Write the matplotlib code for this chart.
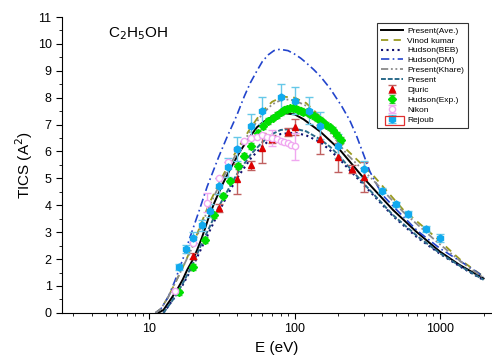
import numpy as np
import matplotlib.pyplot as plt
from matplotlib.patches import Rectangle
from matplotlib.ticker import MultipleLocator, FixedLocator, NullFormatter

plt.rcParams['font.family'] = ['Liberation Sans', 'DejaVu Sans']

# theory curves (energy in eV, cross section in A^2)
e_ave = [11.5, 12.5, 14, 15.5, 17, 18.2, 20, 21.3, 23, 25.6, 28, 32, 36, 42, 47, 55, 61, 70, 86,
         100, 115, 150, 205, 300, 475, 688, 1000, 1370, 2000]
tics_ave = [0, 0.11, 0.5, 0.86, 1.25, 1.6, 2.0, 2.34, 2.8, 3.55, 4.1, 4.8, 5.35, 6.0, 6.4, 6.9, 7.1, 7.3, 7.42,
            7.38, 7.2, 6.74, 6.06, 5.0, 3.83, 3.02, 2.28, 1.78, 1.28]

e_vinod = [11, 12, 13.5, 15, 17, 20, 23, 26, 30, 35, 40, 50, 60, 70, 83, 100, 120, 150, 229, 345, 560,
           950, 1400, 2000]
tics_vinod = [0, 0.15, 0.6, 1.1, 1.7, 2.55, 3.4, 4.1, 4.8, 5.5, 6.05, 6.9, 7.5, 7.85, 8.04, 8.0, 7.8, 7.3,
              6.06, 5.13, 3.83, 2.78, 1.95, 1.35]

e_beb = [12.5, 13.5, 15, 17, 20, 23, 26, 30, 35, 40, 50, 60, 70, 80, 100, 120, 150, 175, 205, 240, 300,
         475, 700, 1000, 1400, 2000]
tics_beb = [0, 0.25, 0.6, 1.05, 1.75, 2.45, 3.05, 3.75, 4.45, 5.0, 5.75, 6.2, 6.5, 6.65, 6.7, 6.6, 6.35,
            6.05, 5.7, 5.3, 4.75, 3.6, 2.8, 2.2, 1.7, 1.22]

e_dm = [11, 12, 13.5, 15, 17, 19, 22, 25, 30, 34, 40, 45, 49.5, 55, 60, 66, 72, 79, 90, 100, 110, 120,
        135, 150, 175, 210, 240, 266, 300, 330, 400, 500, 700, 1000, 1500, 2000]
tics_dm = [0, 0.15, 0.6, 1.2, 2.0, 2.8, 3.8, 4.7, 5.8, 6.5, 7.35, 8.05, 8.55, 9.0, 9.35, 9.6, 9.75, 9.8,
           9.75, 9.62, 9.47, 9.3, 9.05, 8.8, 8.35, 7.7, 7.15, 6.6, 5.85, 5.25, 4.4, 3.85, 3.05, 2.4, 1.8, 1.35]

e_khare = [11, 12, 13.5, 15, 17, 20, 23, 26, 30, 35, 40, 50, 60, 70, 83, 100, 120, 150, 229, 345, 560,
           950, 1400, 2000]
tics_khare = [0, 0.15, 0.6, 1.1, 1.7, 2.5, 3.3, 4.0, 4.7, 5.4, 5.95, 6.8, 7.4, 7.75, 7.95, 7.9, 7.7, 7.2,
              5.9, 4.95, 3.75, 2.65, 1.9, 1.3]

e_pres = [12.5, 13.5, 15, 17, 20, 23, 26, 30, 35, 40, 50, 60, 70, 80, 100, 120, 150, 175, 205, 240, 300,
          475, 700, 1000, 1400, 2000]
tics_pres = [0, 0.25, 0.6, 1.1, 1.85, 2.6, 3.2, 3.95, 4.6, 5.15, 5.9, 6.35, 6.65, 6.8, 6.85, 6.75, 6.45,
             6.18, 5.81, 5.38, 4.8, 3.64, 2.85, 2.22, 1.72, 1.23]

# experimental data
e_djuric = [20, 30, 40, 50, 60, 70, 90, 100, 150, 200, 250, 300]
tics_djuric = [2.12, 3.89, 4.97, 5.48, 6.12, 6.46, 6.74, 6.9, 6.45, 5.78, 5.34, 5.05]
err_djuric = [0.1, 0.15, 0.55, 0.15, 0.55, 0.15, 0.15, 0.3, 0.55, 0.55, 0.15, 0.55]

e_hudson = [16, 20, 24, 28, 32, 36, 41, 45, 50, 56, 61, 66, 71, 76, 80, 85, 89, 93, 97, 100, 105, 110, 115,
            121, 128, 135, 142, 150, 157, 165, 175, 185, 197, 210]
tics_hudson = [0.76, 1.70, 2.71, 3.64, 4.36, 4.92, 5.46, 5.85, 6.21, 6.70, 6.95, 7.14, 7.26, 7.36, 7.45,
               7.55, 7.58, 7.61, 7.61, 7.6, 7.56, 7.52, 7.48, 7.45, 7.38, 7.32, 7.25, 7.17, 7.08, 7.0,
               6.9, 6.8, 6.62, 6.43]
err_hudson = [0.1] * 34

e_nikon = [15, 20, 25, 30, 35, 40, 45, 50, 55, 60, 65, 70, 75, 80, 85, 90, 95, 100]
tics_nikon = [0.8, 2.6, 4.1, 5.0, 5.6, 6.1, 6.4, 6.5, 6.55, 6.6, 6.55, 6.5, 6.45, 6.4, 6.35, 6.3, 6.25, 6.2]
err_nikon = [0, 0, 0.35, 0, 0, 0, 0, 0, 0, 0, 0, 0.3, 0, 0, 0, 0, 0, 0.5]

e_rejoub = [16, 18, 20, 23, 26, 30, 35, 40, 50, 60, 80, 100, 125, 150, 200, 300, 400, 500, 600, 800, 1000]
tics_rejoub = [1.7, 2.37, 2.8, 3.26, 3.8, 4.72, 5.42, 6.08, 6.95, 7.52, 8.02, 7.89, 7.52, 6.95, 6.2,
               5.34, 4.54, 4.04, 3.67, 3.12, 2.78]
err_rejoub = [0.1, 0.15, 0.2, 0.2, 0.25, 0.3, 0.35, 0.45, 0.45, 0.5, 0.5, 0.5, 0.5, 0.5, 0.45, 0.3,
              0.1, 0.1, 0.1, 0.1, 0.15]

fig = plt.figure(figsize=(4.92, 3.58), dpi=100)
ax = fig.add_axes([0.126, 0.126, 0.872, 0.8265])

ax.plot(e_ave, tics_ave, '-', color='black', lw=1.4, label='Present(Ave.)')
ax.plot(e_vinod, tics_vinod, '--', color='#9a9a20', lw=1.3, dashes=(4, 3), label='Vinod kumar')
ax.plot(e_beb, tics_beb, ':', color='#101070', lw=1.5, label='Hudson(BEB)')
ax.plot(e_dm, tics_dm, '-.', color='#2244cc', lw=1.2, dashes=(5, 2, 1, 2), label='Hudson(DM)')
ax.plot(e_khare, tics_khare, color='#8a8a8a', lw=1.3, dashes=(4, 1.5, 1, 1.5, 1, 1.5), label='Present(Khare)')
ax.plot(e_pres, tics_pres, '--', color='#2a6a8a', lw=1.4, dashes=(2.5, 1), label='Present')

ax.errorbar(e_djuric, tics_djuric, yerr=err_djuric, fmt='^', color='#dd0000', ms=4.5, ecolor='#c06060',
            elinewidth=1, capsize=3, label='Djuric')
ax.errorbar(e_hudson, tics_hudson, yerr=err_hudson, fmt='D', color='#00e000', ms=4, ecolor='#40c040',
            elinewidth=0.8, capsize=2.5, label='Hudson(Exp.)')
ax.errorbar(e_nikon, tics_nikon, yerr=err_nikon, fmt='o', mfc='white', mec='#f0a8f0', ms=4.5,
            ecolor='#f0a8f0', elinewidth=1, capsize=3, label='Nikon')
ax.errorbar(e_rejoub, tics_rejoub, yerr=err_rejoub, fmt='h', color='#11aaee', ms=5, ecolor='#66c8e8',
            elinewidth=1, capsize=3, label='Rejoub')

ax.set_xscale('log')
ax.set_xlim(2.5, 2250)
ax.set_ylim(0, 11)
ax.yaxis.set_major_locator(MultipleLocator(1))
ax.yaxis.set_minor_locator(MultipleLocator(0.5))
ax.xaxis.set_minor_locator(FixedLocator([3, 4, 5, 6, 7, 8, 9, 20, 30, 40, 50, 60, 70, 80, 90,
                                         200, 300, 400, 500, 600, 700, 800, 900, 2000]))
ax.xaxis.set_minor_formatter(NullFormatter())
ax.set_xticks([10, 100, 1000])
ax.set_xticklabels(['10', '100', '1000'])
ax.spines['top'].set_visible(False)
ax.spines['right'].set_visible(False)
ax.tick_params(which='major', length=4, labelsize=9)
ax.tick_params(which='minor', length=2.5)

ax.set_xlabel('E (eV)', fontsize=11, labelpad=4)
ax.set_ylabel('TICS (A$^2$)', fontsize=11, labelpad=2)
ax.text(0.107, 0.945, 'C$_2$H$_5$OH', transform=ax.transAxes, fontsize=11, va='center')

leg = ax.legend(loc='upper left', bbox_to_anchor=(0.725, 0.995), fontsize=6, frameon=True, fancybox=False,
                edgecolor='black', handlelength=2.6, labelspacing=0.25, borderpad=0.5, handletextpad=0.5)
leg.get_frame().set_linewidth(0.8)

# red selection box round the last legend symbol, as in the original
fig.canvas.draw()
tb = leg.get_texts()[-1].get_window_extent()
inv = fig.transFigure.inverted()
x0, y0 = inv.transform((tb.x0 - 22, tb.y0 - 1))
x1, y1 = inv.transform((tb.x0 - 3, tb.y1 + 1))
fig.patches.append(Rectangle((x0, y0), x1 - x0, y1 - y0, transform=fig.transFigure, fill=False,
                             edgecolor='#e03030', lw=0.9))

plt.savefig('out.png', dpi=100)
